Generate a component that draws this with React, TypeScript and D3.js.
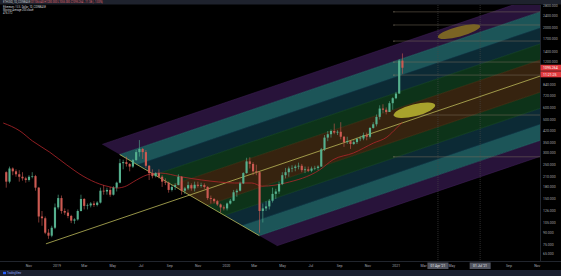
import React from "react";
import * as d3 from "d3";

// ---------- data ----------
const firstWeek = "2018-09-10";
const firstOpen = 225;
const weeklyHigh = [
  228, 245, 242, 235, 232, 225, 210, 215, 225, 216, 180, 125, 115, 95, 100, 140, 160,
  158, 130, 128, 118, 112, 128, 160, 152, 140, 143, 145, 145, 178, 185, 178, 180, 182, 195,
  275, 272, 285, 258, 275, 315, 366, 325, 315, 250, 235, 225, 235, 215, 205, 195, 185, 190,
  218, 212, 180, 195, 190, 195, 195, 192, 190, 182, 158, 152, 148, 140, 136, 142,
  150, 172, 175, 195, 225, 280, 282, 262, 252, 228, 140, 145, 150, 178, 175, 195, 225,
  240, 245, 250, 252, 260, 255, 245, 245, 245, 248, 250, 325, 395, 420, 430, 470, 425, 480,
  390, 385, 362, 365, 380, 390, 410, 410, 445, 480, 540, 620, 630, 600, 660, 700, 760,
  1250, 1360,
];
const weeklyLow = [
  178, 190, 215, 210, 195, 198, 192, 195, 205, 170, 105, 100, 88, 82, 84, 95, 128,
  120, 118, 112, 104, 103, 108, 124, 128, 128, 132, 133, 134, 140, 160, 160, 155, 158, 168,
  190, 235, 245, 228, 240, 268, 285, 275, 240, 200, 205, 208, 205, 180, 185, 165, 168, 172,
  185, 160, 162, 172, 170, 168, 178, 178, 175, 148, 140, 140, 135, 122, 126, 126,
  138, 145, 155, 168, 188, 220, 238, 215, 215, 90, 105, 125, 128, 142, 150, 162, 185,
  205, 210, 225, 228, 235, 225, 222, 225, 225, 232, 232, 245, 310, 360, 380, 400, 395, 370,
  330, 345, 320, 340, 345, 360, 365, 365, 375, 435, 450, 500, 550, 540, 560, 580, 680,
  740, 1000,
];
const weeklyClose = [
  195, 238, 228, 218, 210, 205, 200, 210, 212, 178, 115, 112, 90, 86, 97, 132, 152,
  125, 122, 116, 108, 110, 125, 150, 135, 136, 140, 137, 142, 170, 168, 172, 160, 178, 192,
  258, 262, 255, 245, 270, 305, 320, 305, 248, 222, 212, 222, 210, 195, 192, 172, 180, 185,
  210, 170, 176, 185, 176, 186, 183, 185, 180, 152, 150, 145, 138, 132, 130, 140,
  146, 166, 170, 190, 222, 265, 255, 228, 225, 125, 130, 134, 146, 162, 168, 188, 215,
  225, 238, 240, 245, 248, 232, 235, 230, 238, 240, 245, 318, 380, 400, 420, 410, 415, 385,
  355, 360, 345, 355, 372, 375, 395, 385, 440, 465, 520, 590, 580, 560, 640, 690, 740,
  1220, 1095.264,
];

const maDates = [
  "2018-09-07", "2018-10-13", "2018-11-09", "2018-12-16", "2019-01-22", "2019-02-26",
  "2019-04-03", "2019-04-25", "2019-05-10", "2019-05-31", "2019-06-14", "2019-06-29",
  "2019-07-14", "2019-08-12", "2019-09-25", "2019-11-08", "2019-12-15", "2020-01-19",
  "2020-02-25", "2020-03-18", "2020-04-15", "2020-05-07", "2020-07-20", "2020-08-18",
  "2020-10-01", "2020-11-13", "2020-12-12", "2021-01-02", "2021-01-14",
];
const maValues = [
  474, 420, 361, 305, 251, 212, 188, 180, 177, 183, 194, 206, 216, 222, 210, 200, 194, 191,
  191, 182, 185, 191, 233, 272, 301, 350, 383, 440, 478,
];

const priceTicks = [2800, 2400, 2000, 1700, 1400, 1200, 840, 720, 600, 500, 420, 350, 300, 250, 210, 180, 150, 126, 105, 90, 75, 65];
const timeTickDates = [
  "2018-11-01", "2019-01-01", "2019-03-01", "2019-05-01", "2019-07-01", "2019-09-01", "2019-11-01",
  "2020-01-01", "2020-03-01", "2020-05-01", "2020-07-01", "2020-09-01", "2020-11-01",
  "2021-01-01", "2021-03-01", "2021-05-01", "2021-09-01", "2021-11-01",
];
const timeTickLabels = ["Nov", "2019", "Mar", "May", "Jul", "Sep", "Nov", "2020", "Mar", "May", "Jul", "Sep", "Nov", "2021", "Mar", "May", "Sep", "Nov"];

const pitchforkDates = ["2018-12-08", "2019-05-16", "2020-03-12"];
const pitchforkPrices = [76, 294, 86];
const pitchforkLevels = [0, 0.25, 0.5, 0.75, 1, 1.25];
const bandFills = ["#36230f", "#0d3319", "#0c2a35", "#1c5558", "#28133a"];
const bandLines = ["#5a3f1a", "#1f5a2c", "#17465a", "#2c7a7c", "#45225e"];

const hLevelStart = "2020-12-27";
const hLevelPrices = [2553, 2093, 1641, 1194, 980, 535, 284];

const markerDates = ["2021-04-01", "2021-07-01"];
const markerLabels = ["01 Apr '21", "01 Jul '21"];

const ellipseStartDates = ["2020-12-27", "2021-04-01"];
const ellipseStartPrices = [531, 1740];
const ellipseEndDates = ["2021-03-26", "2021-07-01"];
const ellipseEndPrices = [623, 2062];
const ellipseFills = ["#a8a22c", "#7a6424"];

const lastPrice = 1095.264;
const countdown = "11:21:25";

// ---------- layout ----------
const W = 561, H = 276;
const PL = 0, PR = 540, PT = 5, PB = 261;
const FONT = "Roboto, 'DejaVu Sans', sans-serif";

const parse = d3.utcParse("%Y-%m-%d");
const x = d3.scaleUtc().domain([parse("2018-08-31")!, parse("2021-11-07")!]).range([PL, PR]);
const y = d3.scaleLog().domain([58.6, 2833]).range([PB, PT]);

export default function App() {
  const w0 = parse(firstWeek)!;
  const candles = weeklyClose.map((c, i) => {
    const start = d3.utcDay.offset(w0, i * 7);
    const mid = d3.utcHour.offset(start, 84);
    const o = i === 0 ? firstOpen : weeklyClose[i - 1];
    return { x: x(mid), o, c, h: weeklyHigh[i], l: weeklyLow[i] };
  });
  const bodyW = (x(d3.utcDay.offset(w0, 7)) - x(w0)) * 0.66;

  const maLine = d3
    .line<[Date, number]>()
    .x((d) => x(d[0]))
    .y((d) => y(d[1]))
    .curve(d3.curveMonotoneX)(maDates.map((d, i) => [parse(d)!, maValues[i]]));

  // pitchfork in pixel space
  const P = pitchforkDates.map((d, i) => [x(parse(d)!), y(pitchforkPrices[i])]);
  const M = [(P[1][0] + P[2][0]) / 2, (P[1][1] + P[2][1]) / 2];
  const slope = (M[1] - P[0][1]) / (M[0] - P[0][0]);
  const startPt = (lv: number, side: number) => {
    const T = side > 0 ? P[1] : P[2];
    return [M[0] + lv * (T[0] - M[0]), M[1] + lv * (T[1] - M[1])];
  };
  const endPt = (s: number[]) => [PR + 5, s[1] + slope * (PR + 5 - s[0])];
  const bands: { pts: number[][]; fill: string }[] = [];
  const levelLines: { a: number[]; b: number[]; color: string }[] = [];
  for (let k = 0; k < pitchforkLevels.length - 1; k++) {
    for (const side of [1, -1]) {
      const a = startPt(pitchforkLevels[k], side);
      const b = startPt(pitchforkLevels[k + 1], side);
      bands.push({ pts: [a, endPt(a), endPt(b), b], fill: bandFills[k] });
      levelLines.push({ a: b, b: endPt(b), color: bandLines[k] });
    }
  }
  const medianEnd = endPt(P[0]);

  const ellipses = ellipseStartDates.map((d, i) => {
    const x1 = x(parse(d)!), y1 = y(ellipseStartPrices[i]);
    const x2 = x(parse(ellipseEndDates[i])!), y2 = y(ellipseEndPrices[i]);
    const cx = (x1 + x2) / 2, cy = (y1 + y2) / 2;
    const rx = Math.hypot(x2 - x1, y2 - y1) / 2;
    const ang = (Math.atan2(y2 - y1, x2 - x1) * 180) / Math.PI;
    return { cx, cy, rx, ang, fill: ellipseFills[i] };
  });

  const hx = x(parse(hLevelStart)!);
  const yLast = y(lastPrice);
  const poly = (pts: number[][]) => pts.map((p) => p.join(",")).join(" ");

  return (
    <>
      <style>{`body{margin:0;background:#000;}`}</style>
      <svg width={W} height={H} style={{ display: "block", background: "#000" }} fontFamily={FONT}>
        <defs>
          <clipPath id="plot">
            <rect x={PL} y={PT} width={PR - PL} height={PB - PT} />
          </clipPath>
        </defs>
        <rect x={0} y={0} width={W} height={H} fill="#000" />

        <g clipPath="url(#plot)">
          {bands.map((b, i) => (
            <polygon key={"b" + i} points={poly(b.pts)} fill={b.fill} />
          ))}
          {levelLines.map((l, i) => (
            <line key={"l" + i} x1={l.a[0]} y1={l.a[1]} x2={l.b[0]} y2={l.b[1]} stroke={l.color} strokeWidth={0.5} />
          ))}
          {/* horizontal levels */}
          {hLevelPrices.map((p, i) => (
            <g key={"h" + i}>
              <line x1={hx} x2={PR} y1={y(p)} y2={y(p)} stroke="#7a6f5c" strokeWidth={0.6} opacity={0.85} />
              <circle cx={hx} cy={y(p)} r={0.6} fill="#8a8070" />
            </g>
          ))}
          {/* vertical markers */}
          {markerDates.map((d, i) => (
            <line key={"v" + i} x1={x(parse(d)!)} x2={x(parse(d)!)} y1={PT} y2={PB} stroke="#4a4a4a" strokeWidth={0.6} strokeDasharray="1,1" />
          ))}
          {/* ellipses */}
          {ellipses.map((e, i) => (
            <ellipse key={"e" + i} cx={e.cx} cy={e.cy} rx={e.rx} ry={i === 0 ? 6 : 5} fill={e.fill} transform={`rotate(${e.ang} ${e.cx} ${e.cy})`} />
          ))}
          {/* pitchfork lines */}
          <line x1={P[0][0]} y1={P[0][1]} x2={medianEnd[0]} y2={medianEnd[1]} stroke="#d6d265" strokeWidth={0.7} />
          <line x1={P[1][0]} y1={P[1][1]} x2={P[2][0]} y2={P[2][1]} stroke="#d6d265" strokeWidth={0.7} />
          {/* moving average */}
          <path d={maLine!} fill="none" stroke="#b3262b" strokeWidth={0.8} />
          {/* candles */}
          {candles.map((c, i) => {
            const up = c.c >= c.o;
            const col = up ? "#55b08e" : "#cc5a52";
            const top = y(Math.max(c.o, c.c));
            const bot = y(Math.min(c.o, c.c));
            return (
              <g key={"c" + i}>
                <line x1={c.x} x2={c.x} y1={y(c.h)} y2={y(c.l)} stroke={col} strokeWidth={0.6} />
                <rect x={c.x - bodyW / 2} y={top} width={bodyW} height={Math.max(0.6, bot - top)} fill={col} />
              </g>
            );
          })}
        </g>

        {/* header */}
        <rect x={0} y={0} width={W} height={4.5} fill="#1e222d" />
        <text x={3} y={3.3} fontSize={2.6} fill="#c8cad0">
          ETHUSD, 1D, COINBASE <tspan fill="#e06c75">O1106.640 H1200.000 L1055.000 C1095.264 −11.38 (−1.03%)</tspan>
        </text>
        <text x={3} y={8} fontSize={2.6} fill="#d1d4dc">Ethereum / U.S. Dollar, 1D, COINBASE</text>
        <text x={3} y={11} fontSize={2.6} fill="#d1d4dc">Moving Average 200 close</text>
        <text x={3} y={14} fontSize={2.6} fill="#d1d4dc">476.312</text>

        {/* price axis */}
        <line x1={PR + 0.5} x2={PR + 0.5} y1={PT} y2={PB} stroke="#2a2e39" strokeWidth={0.8} />
        {priceTicks.map((p) => (
          <text key={"p" + p} x={PR + 3} y={y(p) + 1.2} fontSize={3.5} fill="#a3a6af">
            {p.toFixed(3)}
          </text>
        ))}
        <rect x={PR + 0.5} y={yLast - 3} width={W - PR} height={6} fill="#e0393e" />
        <text x={PR + 3} y={yLast + 1.2} fontSize={3.5} fill="#fff">{lastPrice.toFixed(3)}</text>
        <rect x={PR + 0.5} y={yLast + 3.6} width={W - PR} height={6} fill="#e0393e" />
        <text x={PR + 3} y={yLast + 7.8} fontSize={3.5} fill="#fff">{countdown}</text>

        {/* time axis */}
        <line x1={0} x2={W} y1={PB + 0.5} y2={PB + 0.5} stroke="#2a2e39" strokeWidth={0.8} />
        {timeTickDates.map((d, i) => (
          <text key={"t" + i} x={x(parse(d)!)} y={267} fontSize={3.5} fill="#a3a6af" textAnchor="middle">
            {timeTickLabels[i]}
          </text>
        ))}
        {markerDates.map((d, i) => (
          <g key={"m" + i}>
            <rect x={x(parse(d)!) - 10.5} y={262.5} width={21} height={6.5} fill="#50535e" />
            <text x={x(parse(d)!)} y={267} fontSize={3.3} fill="#e8e8e8" textAnchor="middle">{markerLabels[i]}</text>
          </g>
        ))}

        {/* bottom bar */}
        <rect x={0} y={270} width={W} height={6} fill="#1c2030" />
        <rect x={3} y={271.8} width={3} height={2.4} fill="#2962ff" />
        <text x={7} y={274} fontSize={2.6} fill="#8ea8ff">TradingView</text>
      </svg>
    </>
  );
}
